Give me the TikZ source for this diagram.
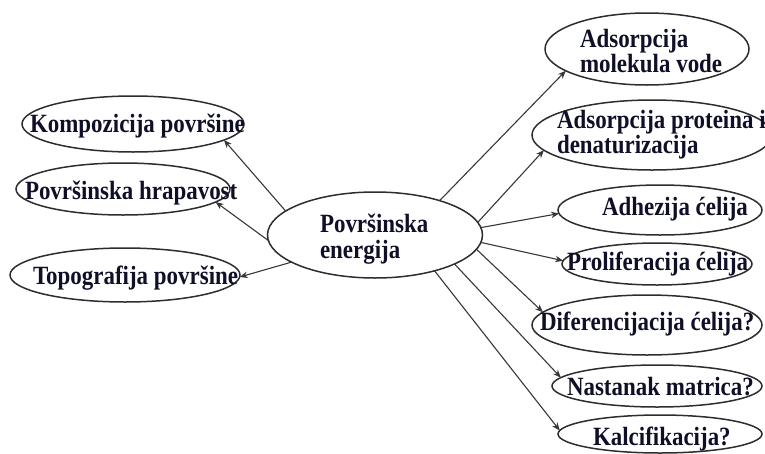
\documentclass[tikz,border=0pt]{standalone}
\usepackage{fontspec}
\setmainfont{Liberation Serif}
\usetikzlibrary{arrows.meta,shapes.geometric}
\definecolor{txt}{RGB}{15,15,40}
\definecolor{edgecol}{RGB}{45,45,45}
\definecolor{conncol}{RGB}{55,55,55}
\newcommand{\oneline}[3]{\makebox[0pt][l]{\hspace*{#1pt}\raisebox{#2pt}[0pt][0pt]{\scalebox{1.02}[1.17]{#3}}}}
\newcommand{\twoline}[5]{\oneline{#1}{#2}{#3}\oneline{#1}{#4}{#5}}
\begin{document}
\begin{tikzpicture}[x=1pt,y=-1pt,
  oval/.style={ellipse, draw=edgecol, line width=1.5pt, inner sep=0pt, outer sep=0pt,
    text=txt, font=\fontsize{22.5}{26}\selectfont\bfseries},
  conn/.style={draw=conncol, line width=1.1pt, -{Stealth[length=8pt,width=6.5pt]}}
]
\useasboundingbox (0,0) rectangle (765,453);

\node[oval, minimum width=215, minimum height=86] (pe) at (375,235) {\twoline{-55}{3}{Površinska}{-23}{energija}};

\node[oval, minimum width=222, minimum height=56] (komp) at (133,124) {\oneline{-103}{-8}{Kompozicija površine}};
\node[oval, minimum width=214, minimum height=52] (hrap) at (123,189) {\oneline{-98}{-10}{Površinska hrapavost}};
\node[oval, minimum width=230, minimum height=54] (topo) at (125,275) {\oneline{-92}{-9}{Topografija površine}};

\node[oval, minimum width=204, minimum height=72] (mol) at (647,49) {\twoline{-67}{2}{Adsorpcija}{-23}{molekula vode}};
\node[oval, minimum width=240, minimum height=70] (prot) at (652,135) {\twoline{-95}{7}{Adsorpcija proteina i}{-18}{denaturizacija}};
\node[oval, minimum width=204, minimum height=50] (adh) at (660,210) {\oneline{-58}{-5}{Adhezija ćelija}};
\node[oval, minimum width=190, minimum height=42] (prol) at (657,264) {\oneline{-90}{-6}{Proliferacija ćelija}};
\node[oval, minimum width=230, minimum height=60] (dif) at (647,325) {\oneline{-107}{-5}{Diferencijacija ćelija?}};
\node[oval, minimum width=210, minimum height=42] (nast) at (657,386) {\oneline{-90}{-9}{Nastanak matrica?}};
\node[oval, minimum width=204, minimum height=38] (kalc) at (660,434) {\oneline{-67}{-11}{Kalcifikacija?}};

\draw[conn] (pe.165) -- (komp.-10);
\draw[conn] (pe.183) -- (hrap.-8);
\draw[conn] (pe.198) -- (topo.-1);
\draw[conn] (pe.28) -- (mol.195);
\draw[conn] (pe.7) -- (prot.188);
\draw[conn] (pe.4) -- (adh.182);
\draw[conn] (pe.-4) -- (prol.178);
\draw[conn] (pe.-8.5) -- (dif.173.5);
\draw[conn] (pe.-20) -- (nast.175);
\draw[conn] (pe.-31) -- (kalc.178);
\end{tikzpicture}
\end{document}
